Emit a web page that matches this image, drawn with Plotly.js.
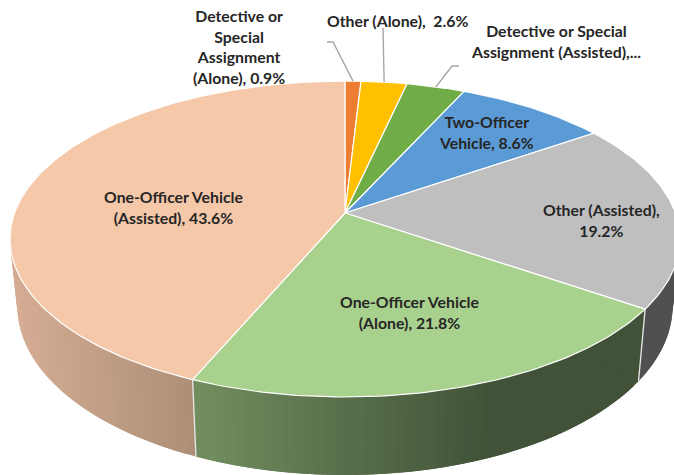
<!DOCTYPE html>
<html><head><meta charset="utf-8">
<script src="https://cdn.plot.ly/plotly-3.0.1.min.js"></script>
<style>html,body{margin:0;padding:0;background:#fff}#c{width:674px;height:475px}</style>
</head><body><div id="c"></div>
<script>
// Data, clockwise from 12 o'clock
const categories = ["Detective or Special Assignment (Alone)","Other (Alone)","Detective or Special Assignment (Assisted)","Two-Officer Vehicle","Other (Assisted)","One-Officer Vehicle (Alone)","One-Officer Vehicle (Assisted)"];
const shares = [0.9,2.6,3.3,8.6,19.2,21.8,43.6];
const topColors = ["#ED7D31","#FFC000","#70AD47","#5B9BD5","#BFBFBF","#A9D18E","#F5C8A9"];
const labelLines = [
  ["Detective or","Special","Assignment","(Alone), 0.9%"],
  ["Other (Alone),  2.6%"],
  ["Detective or Special","Assignment (Assisted),..."],
  ["Two-Officer","Vehicle, 8.6%"],
  ["Other (Assisted),","19.2%"],
  ["One-Officer Vehicle","(Alone), 21.8%"],
  ["One-Officer Vehicle","(Assisted), 43.6%"]
];
const labelX = [239,397,556,486,601,409,173];
const labelY = [46,20,41,132,220,312,207];
// Leader elbows for the three outside labels: [slice index, elbow x/y, end x/y]
const leaders = [[0,333,42,327,42],[1,383,28,383,28],[2,452,66,459,66]];

// Projection of the tilted disc
const CX=345, CY=213, A=330.4, B=153.7, K=0.1646;
const S_X=0.978, S_Y=1.069, DROP=65.4;
function project(deg){const t=deg*Math.PI/180,u=Math.sin(t),v=Math.cos(t),d=1+K*v;
  return [A*u/d, -B*v/d];}
function topPt(deg){const p=project(deg);return [CX+p[0],CY+p[1]];}
function botPt(deg){const p=project(deg);return [CX+S_X*p[0],CY+DROP+S_Y*p[1]];}
function lerp(a,b,t){t=Math.max(0,Math.min(1,t));return a.map((c,i)=>Math.round(c+(b[i]-c)*t));}
function rgb(c){return `rgb(${c[0]},${c[1]},${c[2]})`;}

const edges=[0];shares.forEach(s=>edges.push(edges[edges.length-1]+s));
const total=edges[edges.length-1];
const ang=p=>p/total*360;
const traces=[];
const base={type:"scatter",mode:"lines",fill:"toself",hoverinfo:"skip",showlegend:false};

function sideColor(i,x){
  if(i===4) return [80,80,80];
  if(i===5) return lerp([114,141,95],[65,82,56],(x-197)/(490-197));
  return lerp([212,172,147],[172,142,119],(x-15)/(197-15));
}
// Paint each slice's wall as overlapping strips, so no seams show between them
function wall(i,a0,a1,reverse){
  const step=1.5, starts=[];
  for(let a=a0;a<a1;a+=step) starts.push(a);
  if(reverse) starts.reverse();
  starts.forEach(a=>{
    const b=reverse?a+step:Math.min(a+step,a1);
    const c=reverse?Math.max(a-step,a0):Math.min(a+2*step,a1);
    const lo=Math.min(b,c),hi=Math.max(a,c,b);
    const from=reverse?Math.max(a-step,a0):a, to=reverse?Math.min(a+step,a1):Math.min(a+2*step,a1);
    const p=[topPt(from),topPt((from+to)/2),topPt(to),botPt(to),botPt((from+to)/2),botPt(from)];
    const mid=topPt(a+step/2);
    const col=rgb(sideColor(i,mid[0]));
    traces.push(Object.assign({},base,{x:p.map(q=>q[0]).concat(p[0][0]),y:p.map(q=>q[1]).concat(p[0][1]),
      fillcolor:col,line:{color:col,width:0}}));
  });
}
wall(4,90,ang(edges[5]),false);
wall(5,ang(edges[5]),ang(edges[6]),false);
wall(6,ang(edges[6]),278,false);
// pale seams on the side wall
[5,6].forEach(i=>{
  const a=ang(edges[i]),p=topPt(a),q=botPt(a);
  traces.push({type:"scatter",mode:"lines",x:[p[0],q[0]],y:[p[1],q[1]],line:{color:"#E8E8E8",width:1.3},hoverinfo:"skip",showlegend:false});
});
// top faces
shares.forEach((s,i)=>{
  const a0=ang(edges[i]),a1=ang(edges[i+1]);
  const xs=[CX],ys=[CY];
  const n=Math.max(2,Math.ceil(a1-a0));
  for(let k=0;k<=n;k++){const q=topPt(a0+(a1-a0)*k/n);xs.push(q[0]);ys.push(q[1]);}
  xs.push(CX);ys.push(CY);
  traces.push(Object.assign({},base,{name:categories[i],x:xs,y:ys,fillcolor:topColors[i],line:{color:"#FFFFFF",width:1.2}}));
});
// leader lines
leaders.forEach(([i,ex,ey,fx,fy])=>{
  const q=topPt(ang((edges[i]+edges[i+1])/2));
  traces.push({type:"scatter",mode:"lines",x:[q[0],ex,fx],y:[q[1],ey,fy],line:{color:"#A6A6A6",width:1.4},hoverinfo:"skip",showlegend:false});
});
const annotations=labelLines.map((ls,i)=>({x:labelX[i],y:labelY[i],xref:"x",yref:"y",
  text:ls.map(l=>"<b>"+l+"</b>").join("<br>"),
  showarrow:false,align:"center",xanchor:"center",yanchor:"middle",
  font:{family:"Lato, 'Open Sans', sans-serif",size:15.8,color:"#262626"}}));

Plotly.newPlot("c",traces,{
  width:674,height:475,margin:{l:0,r:0,t:0,b:0},paper_bgcolor:"#fff",plot_bgcolor:"#fff",showlegend:false,
  xaxis:{range:[0,674],visible:false,fixedrange:true},
  yaxis:{range:[475,0],visible:false,fixedrange:true},
  annotations
},{displayModeBar:false,staticPlot:true});
</script></body></html>
